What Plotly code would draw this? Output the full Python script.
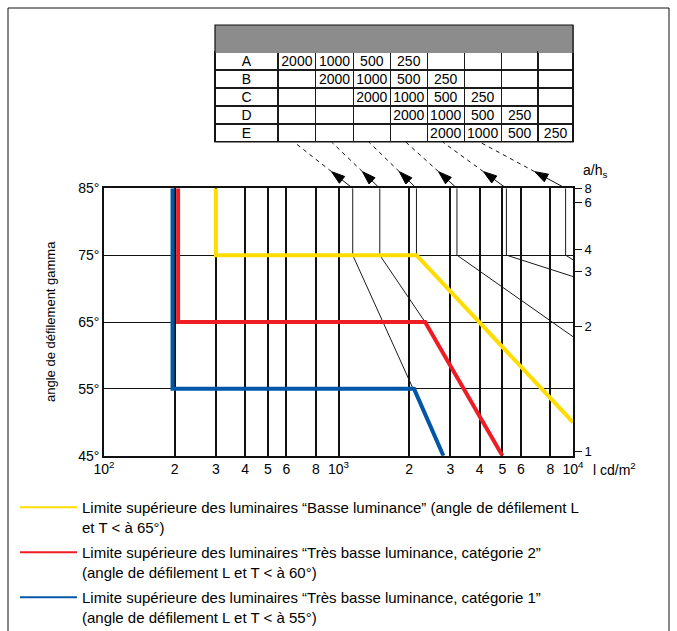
import math
import plotly.graph_objects as go

# ---------------- data ----------------
x_tick_vals = [100, 200, 300, 400, 500, 600, 800, 1000, 2000, 3000, 4000, 5000, 6000, 8000, 10000]
x_tick_text = ["10<sup>2</sup>", "2", "3", "4", "5", "6", "8", "10<sup>3</sup>",
               "2", "3", "4", "5", "6", "8", "10<sup>4</sup>"]
y_tick_vals = [45, 55, 65, 75, 85]
y_tick_text = ["45°", "55°", "65°", "75°", "85°"]
ah_tick_angles = [85, 82.9, 75.9, 72.5, 64.3, 45.6]
ah_tick_text = ["8", "6", "4", "3", "2", "1"]

# limit curves: luminance (cd/m²) vs gamma angle (°)
yellow_L = [300, 300, 2150, 10000]
yellow_g = [85, 75, 75, 50]
red_L = [207, 207, 2340, 5000]
red_g = [85, 65, 65, 45]
blue_L = [196, 196, 2100, 2800]
blue_g = [85, 55, 55, 45]

# nomogram lines (start at 85°, vertical to 75°, then diagonal)
nomo_top_L = [1150, 1500, 2150, 3200, 5200, 9300]
nomo_end_L = [[2800], [2340, 5000], [10000], [10000], [10000], [10000]]
nomo_end_g = [[45], [65, 45], [50], [62.8], [71.8], [74.3]]

# table
table_rows = ["A", "B", "C", "D", "E"]
table_vals = [
    [2000, 1000, 500, 250, None, None, None, None],
    [None, 2000, 1000, 500, 250, None, None, None],
    [None, None, 2000, 1000, 500, 250, None, None],
    [None, None, None, 2000, 1000, 500, 250, None],
    [None, None, None, None, 2000, 1000, 500, 250],
]

legend_names = [
    "Limite supérieure des luminaires “Basse luminance” (angle de défilement L<br>et T &lt; à 65°)",
    "Limite supérieure des luminaires “Très basse luminance, catégorie 2”<br>(angle de défilement L et T &lt; à 60°)",
    "Limite supérieure des luminaires “Très basse luminance, catégorie 1”<br>(angle de défilement L et T &lt; à 55°)",
]
YELLOW, RED, BLUE = "#FFDD00", "#EE1D24", "#0057A8"

# ---------------- layout geometry (pixels) ----------------
W, H = 677, 631
PX0, PX1 = 104, 573
PY_TOP, PY_BOT = 188.3, 455.7
TAB_X0, TAB_X1, TAB_Y0, TAB_Y1 = 215, 573, 25, 142
TEXT_LIFT = 5
HEADER_H, ROW_H = 27, 18
col_widths = [63, 38, 37.5, 37, 37, 37, 37, 37, 35]
ARROW_FRAC = 0.36

FONT = "Liberation Sans, Arial, Helvetica, sans-serif"


def px_to_L(px):
    return 10 ** (2 + (px - PX0) / (PX1 - PX0) * 2)


fig = go.Figure()

# nomogram thin lines
for topL, eL, eg in zip(nomo_top_L, nomo_end_L, nomo_end_g):
    fig.add_trace(go.Scatter(x=[topL, topL] + eL, y=[85, 75] + eg, mode="lines",
                             line=dict(color="#1a1a1a", width=1), showlegend=False,
                             hoverinfo="skip"))

# limit curves
for Ls, gs, c in [(yellow_L, yellow_g, YELLOW), (red_L, red_g, RED), (blue_L, blue_g, BLUE)]:
    fig.add_trace(go.Scatter(x=Ls, y=gs, mode="lines", line=dict(color=c, width=4),
                             showlegend=False))

# legend entries
for k, (name, c) in enumerate(zip(legend_names, [YELLOW, RED, BLUE])):
    fig.add_trace(go.Scatter(x=[None], y=[None], mode="lines", name=name,
                             legendgroup=f"g{k}", line=dict(color=c, width=2)))

# right axis dummy trace
fig.add_trace(go.Scatter(x=[None], y=[None], yaxis="y2", showlegend=False))

# arrows from nomogram lines to table columns (band subplot x2/y3)
cum = TAB_X0
centers = []
scale = (TAB_X1 - TAB_X0) / sum(col_widths)
for w in col_widths:
    centers.append(cum + w * scale / 2)
    cum += w * scale
for i, topL in enumerate(nomo_top_L):
    tgt = px_to_L(centers[i + 1] - 3)
    lt, lg = math.log10(topL), math.log10(tgt)
    mid = 10 ** (lt + (lg - lt) * ARROW_FRAC)
    fig.add_trace(go.Scatter(x=[topL, mid], y=[0, ARROW_FRAC], xaxis="x2", yaxis="y3",
                             mode="lines+markers", line=dict(color="#111", width=1),
                             marker=dict(symbol="arrow", size=[0, 14], angleref="previous",
                                         color="#000", opacity=1,
                                         line=dict(color="#000", width=1)),
                             cliponaxis=False, showlegend=False, hoverinfo="skip"))
    fig.add_trace(go.Scatter(x=[mid, tgt], y=[ARROW_FRAC, 1], xaxis="x2", yaxis="y3",
                             mode="lines", line=dict(color="#111", width=1, dash="4px,4px"),
                             showlegend=False, hoverinfo="skip"))

# table: grid layer and text layer
cols = [table_rows] + [["" if r[j] is None else str(r[j]) for r in table_vals] for j in range(8)]
empty_cols = [[""] * len(table_rows) for _ in cols]
fig.add_trace(go.Table(
    domain=dict(x=[TAB_X0 / W, TAB_X1 / W], y=[1 - TAB_Y1 / H, 1 - TAB_Y0 / H]),
    columnwidth=col_widths,
    header=dict(values=[""] * 9, fill_color="#8c8c8c", line=dict(color="#8c8c8c", width=1),
                height=HEADER_H),
    cells=dict(values=empty_cols, fill_color="white", line=dict(color="#1a1a1a", width=1.2),
               height=ROW_H),
))
fig.add_trace(go.Table(
    domain=dict(x=[TAB_X0 / W, TAB_X1 / W],
                y=[1 - TAB_Y1 / H, 1 - (TAB_Y0 - TEXT_LIFT) / H]),
    columnwidth=col_widths,
    header=dict(values=[""] * 9, fill_color="rgba(0,0,0,0)",
                line=dict(color="rgba(0,0,0,0)", width=0), height=HEADER_H),
    cells=dict(values=cols, fill_color="rgba(0,0,0,0)",
               line=dict(color="rgba(0,0,0,0)", width=0),
               height=ROW_H, align="center",
               font=dict(family=FONT, size=14, color="black")),
))

axis_font = dict(family=FONT, size=14, color="black")
fig.update_layout(
    width=W, height=H, margin=dict(l=0, r=0, t=0, b=0, autoexpand=False),
    paper_bgcolor="white", plot_bgcolor="white",
    xaxis=dict(type="log", range=[2, 4], domain=[PX0 / W, PX1 / W], anchor="y",
               tickvals=x_tick_vals, ticktext=x_tick_text, tickfont=axis_font,
               showgrid=True, gridcolor="#111", gridwidth=1.5, automargin=False,
               showline=True, linecolor="#111", linewidth=1.5, mirror=True, ticks=""),
    yaxis=dict(range=[45, 85], domain=[1 - PY_BOT / H, 1 - PY_TOP / H], anchor="x",
               tickvals=y_tick_vals, ticktext=y_tick_text, tickfont=axis_font,
               showgrid=True, gridcolor="#111", gridwidth=1.3, zeroline=False,
               automargin=False,
               showline=True, linecolor="#111", linewidth=1.5, mirror=True, ticks=""),
    yaxis2=dict(range=[45, 85], overlaying="y", side="right", anchor="x",
                tickvals=ah_tick_angles, ticktext=ah_tick_text,
                tickfont=dict(family=FONT, size=13, color="black"),
                ticks="outside", ticklen=8, tickcolor="#111", tickwidth=1,
                automargin=False,
                showgrid=False, zeroline=False, showline=False),
    xaxis2=dict(type="log", range=[2, 4], domain=[PX0 / W, PX1 / W], anchor="y3",
                visible=False),
    yaxis3=dict(range=[0, 1], domain=[1 - PY_TOP / H, 1 - TAB_Y1 / H], anchor="x2",
                visible=False),
    legend=dict(x=15 / W, y=1 - 491 / H, xanchor="left", yanchor="top",
                font=dict(family=FONT, size=15, color="black"), valign="top",
                itemwidth=57, bgcolor="rgba(0,0,0,0)", tracegroupgap=3),
    annotations=[
        dict(text="angle de défilement gamma", textangle=-90, xref="paper", yref="paper",
             x=50 / W, y=1 - 322 / H, xanchor="center", yanchor="middle", showarrow=False,
             font=dict(family=FONT, size=13, color="black")),
        dict(text="a/h<sub>s</sub>", xref="paper", yref="paper", x=581 / W, y=1 - 171 / H,
             xanchor="left", yanchor="middle", showarrow=False, font=axis_font),
        dict(text="l cd/m<sup>2</sup>", xref="paper", yref="paper", x=591 / W, y=1 - 469 / H,
             xanchor="left", yanchor="middle", showarrow=False, font=axis_font),
    ],
    shapes=[
        dict(type="rect", xref="paper", yref="paper", x0=8 / W, x1=669 / W, y0=-0.05,
             y1=1 - 8 / H, line=dict(color="#111", width=1)),
        dict(type="rect", xref="paper", yref="paper", x0=TAB_X0 / W, x1=TAB_X1 / W,
             y0=1 - TAB_Y1 / H, y1=1 - TAB_Y0 / H, line=dict(color="#111", width=1.2)),
    ],
)

fig.write_html("out.html", config={"displayModeBar": False},
               post_script="document.body.style.margin='0';document.body.style.padding='0';")
